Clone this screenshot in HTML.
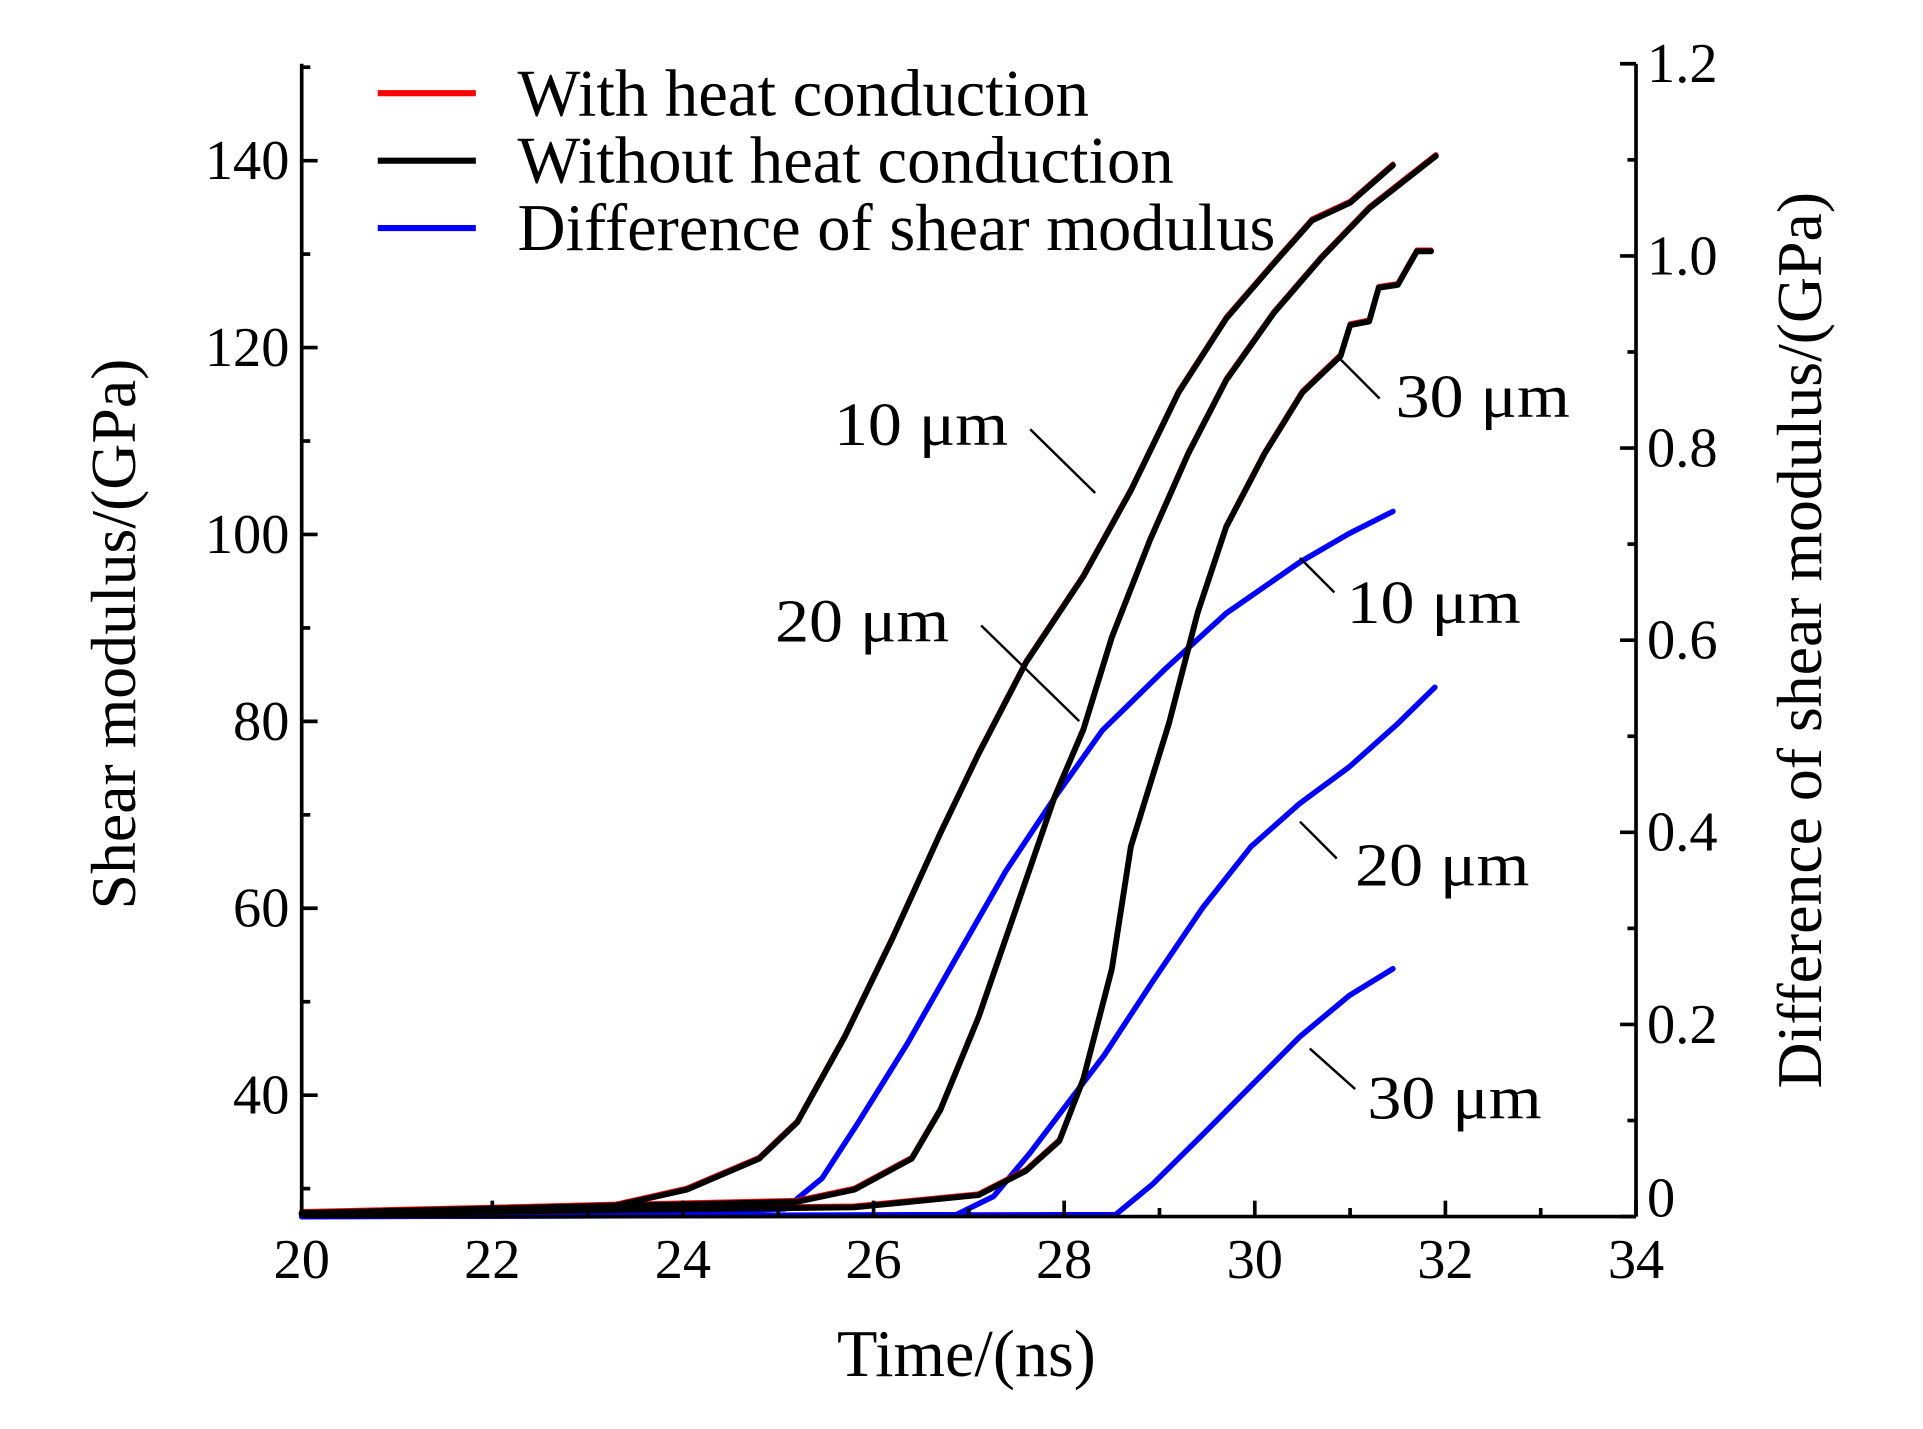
<!DOCTYPE html>
<html><head><meta charset="utf-8"><style>
html,body{margin:0;padding:0;background:#fff;}
svg{display:block;font-family:"Liberation Serif",serif;}
</style></head><body>
<svg id="chart" width="1923" height="1429" viewBox="0 0 1568 1165.2" xmlns="http://www.w3.org/2000/svg"></svg>
<script>
const xTicks=[20,22,24,26,28,30,32,34];
const yLeftTicks=[40,60,80,100,120,140];
const yRightTicks=[0,0.2,0.4,0.6,0.8,1.0,1.2];
const yRightLabels=["0","0.2","0.4","0.6","0.8","1.0","1.2"];
const t10=[20,23.3,24.04,24.8,25.2,25.7,26.2,26.7,27.1,27.6,28.2,28.7,29.2,29.7,30.2,30.6,31.0,31.45];
const g10=[27.3,28.2,29.9,33.2,37.1,46.3,56.8,68,76.5,86.3,95.5,104.7,115.2,123.1,129,133.6,135.5,139.5];
const t20=[20,25.2,25.8,26.4,26.7,27.1,27.5,27.9,28.2,28.5,28.9,29.3,29.7,30.2,30.7,31.2,31.9];
const g20=[27.4,28.6,29.9,33.2,38.4,48.3,60.1,71.9,79.1,89,99.4,108.6,116.5,123.7,129.6,134.9,140.5];
const t30=[20,25.8,27.1,27.6,27.95,28.2,28.5,28.7,29.1,29.4,29.7,30.1,30.5,30.9,31.0,31.2,31.3,31.5,31.7,31.85];
const g30=[27.3,28,29.3,31.9,35.1,41.7,53.5,66.6,79.8,91.6,100.8,108.6,115.2,119.1,122.4,122.8,126.4,126.7,130.3,130.3];
const redOffset=0.15;
const d10t=[20,21.7,23,24.5,25.07,25.46,25.84,26.36,26.87,27.39,27.9,28.4,29.06,29.7,30.47,30.99,31.45];
const d10=[0,0.002,0.006,0.006,0.008,0.04,0.098,0.181,0.27,0.36,0.436,0.506,0.57,0.628,0.681,0.711,0.734];
const d20t=[20,26.87,27.26,27.64,28.03,28.42,28.93,29.45,29.96,30.47,30.99,31.5,31.89];
const d20=[0,0.002,0.021,0.066,0.117,0.168,0.245,0.321,0.385,0.43,0.468,0.513,0.551];
const d30t=[20,28.54,28.93,29.45,29.96,30.47,30.99,31.45];
const d30=[0,0.002,0.034,0.085,0.136,0.187,0.23,0.258];

const X0=246,X1=1334,YB=992,YT=52;
const sx=v=>X0+(v-20)/(34-20)*(X1-X0);
const syL=v=>131+(140-v)*7.62;
const syR=v=>YB-v/1.2*(YB-YT);
const svg=document.getElementById('chart');
const NS='http://www.w3.org/2000/svg';
function mk(tag,attrs,parent){const e=document.createElementNS(NS,tag);for(const k in attrs)e.setAttribute(k,attrs[k]);(parent||svg).appendChild(e);return e;}
function txt(s,attrs,name){const e=mk('text',attrs);e.textContent=s;


return e;}
function line(x1,y1,x2,y2,w,name,col){const e=mk('line',{x1,y1,x2,y2,stroke:col||'#000','stroke-width':w});


return e;}
function poly(ts,vs,fy,col,name,w){const pts=ts.map((t,i)=>sx(t).toFixed(1)+','+fy(vs[i]).toFixed(1)).join(' ');
const e=mk('polyline',{points:pts,fill:'none',stroke:col,'stroke-width':w||4.5,'stroke-linejoin':'round','stroke-linecap':'round'});


return e;}

poly(d10t,d10,syR,'#0000ff','diff-10um');
poly(d20t,d20,syR,'#0000ff','diff-20um');
poly(d30t,d30,syR,'#0000ff','diff-30um');
poly(t10,g10.map(v=>v+redOffset),syL,'#ff0000','with-heat-10um',4);
poly(t20,g20.map(v=>v+redOffset),syL,'#ff0000','with-heat-20um',4);
poly(t30,g30.map(v=>v+redOffset),syL,'#ff0000','with-heat-30um',4);
poly(t10,g10,syL,'#000','without-heat-10um',4.8);
poly(t20,g20,syL,'#000','without-heat-20um',4.8);
poly(t30,g30,syL,'#000','without-heat-30um',4.8);

line(X0,YB,X1,YB,3,'x-axis');
line(X0,YT,X0,YB,3,'left-y-axis');
line(X1,YT,X1,YB,3,'right-y-axis');
for(let v=20;v<=34;v+=1){const x=sx(v);const maj=(v%2===0);line(x,YB,x,YB-(maj?13:7),3,'x-tick');}
xTicks.forEach(v=>txt(String(v),{x:sx(v),y:1042,'font-size':46,'text-anchor':'middle'},'x-tick-label'));
for(let v=30;v<=150;v+=10){const y=syL(v);if(y>YB||y<YT)continue;const maj=(v%20===0);line(X0,y,X0+(maj?13:7),y,3,'left-y-tick');}
yLeftTicks.forEach(v=>txt(String(v),{x:236,y:syL(v)+15,'font-size':46,'text-anchor':'end'},'left-y-tick-label'));
for(let i=0;i<=12;i++){const v=i/10;const y=syR(v);const maj=(i%2===0);line(X1,y,X1-(maj?13:7),y,3,'right-y-tick');}
yRightTicks.forEach((v,i)=>txt(yRightLabels[i],{x:1343,y:v===0?992:syR(v)+15,'font-size':46},'right-y-tick-label'));

txt('Time/(ns)',{x:788,y:1122,'font-size':54,'text-anchor':'middle'},'x-axis-title');
txt('Shear modulus/(GPa)',{x:0,y:0,'font-size':52,'text-anchor':'middle',transform:'translate(110,517) rotate(-90)'},'left-y-axis-title');
txt('Difference of shear modulus/(GPa)',{x:0,y:0,'font-size':52,'text-anchor':'middle',transform:'translate(1485,522) rotate(-90)'},'right-y-axis-title');

const leg=[['With heat conduction','#ff0000',76,466],['Without heat conduction','#000',131,535],['Difference of shear modulus','#0000ff',186,618]];
leg.forEach(l=>{line(308,l[2],388,l[2],5,'legend-line',l[1]);
txt(l[0],{x:422,y:l[2]+18,'font-size':54,textLength:l[3],lengthAdjust:'spacingAndGlyphs'},'legend-label');});

const ann=[['10 μm',680,363,840,350,893,402],['20 μm',632,523,800,510,880,588],['30 μm',1138,340,1125,325,1090,290],
['10 μm',1098,508,1088,483,1060,455],['20 μm',1105,722,1090,700,1060,670],['30 μm',1115,912,1105,888,1068,855]];
ann.forEach(a=>{txt(a[0],{x:a[1],y:a[2],'font-size':50,textLength:142,lengthAdjust:'spacingAndGlyphs'},'curve-annotation');
line(a[3],a[4],a[5],a[6],2,'annotation-leader');});
</script>
</body></html>
